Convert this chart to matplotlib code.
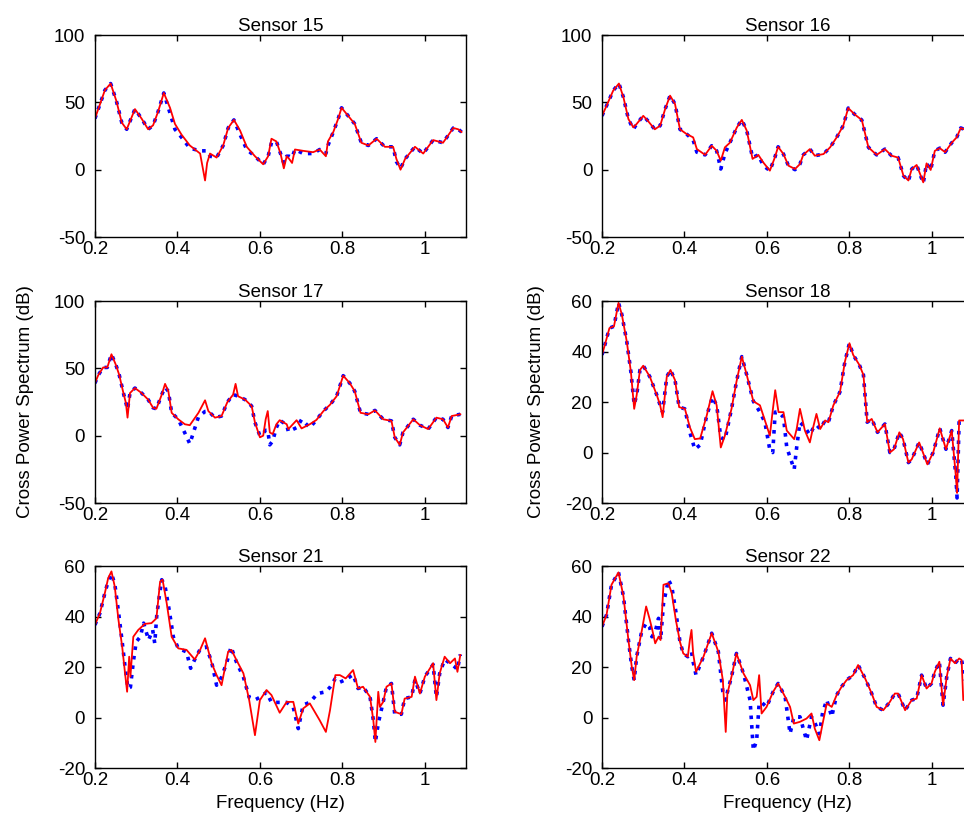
import matplotlib
matplotlib.use('Agg')
import matplotlib.pyplot as plt

plt.rcParams['font.family'] = ['Liberation Sans', 'DejaVu Sans']
plt.rcParams['font.size'] = 13.5
plt.rcParams['axes.unicode_minus'] = False

# Sensor 15
f15 = [0.200, 0.224, 0.238, 0.252, 0.265, 0.277, 0.285, 0.297, 0.313, 0.329, 0.341, 0.353, 0.367, 0.382, 0.394,
       0.410, 0.430, 0.455, 0.467, 0.472, 0.479, 0.495, 0.511, 0.523, 0.537, 0.552, 0.568, 0.588, 0.608, 0.620,
       0.628, 0.640, 0.650, 0.658, 0.665, 0.671, 0.678, 0.685, 0.705, 0.729, 0.745, 0.760, 0.765, 0.778, 0.790,
       0.798, 0.814, 0.830, 0.846, 0.863, 0.883, 0.903, 0.923, 0.931, 0.941, 0.952, 0.976, 0.996, 1.020, 1.044,
       1.069, 1.081, 1.089]
r15 = [38, 59, 64, 51, 35, 30, 36, 45, 38, 30, 33, 43, 57, 46, 34, 26, 18, 12, -8, 5, 12, 9, 18, 31, 37,
       29, 17, 10, 4, 10, 23, 21, 12, 1, 10, 8, 5, 15, 14, 13, 15, 10, 21, 28, 38, 46, 40, 34, 20, 18,
       23, 17, 17, 8, 0, 8, 17, 12, 22, 20, 31, 30, 28]
b15 = [38, 59, 64, 51, 35, 30, 36, 45, 38, 30, 33, 43, 57, 42, 30, 24, 16, 14, 14, 14, 10, 9, 18, 31, 37,
       26, 15, 10, 4, 10, 20, 21, 12, 5, 10, 10, 9, 15, 12, 12, 15, 12, 18, 28, 38, 46, 40, 34, 20, 18,
       23, 17, 17, 6, 1, 8, 17, 12, 22, 20, 31, 30, 28]

# Sensor 16
f16 = [0.200, 0.211, 0.227, 0.241, 0.252, 0.264, 0.276, 0.284, 0.300, 0.312, 0.328, 0.341, 0.353, 0.365, 0.377,
       0.389, 0.405, 0.421, 0.430, 0.450, 0.466, 0.478, 0.488, 0.498, 0.510, 0.527, 0.539, 0.551, 0.565, 0.579,
       0.591, 0.607, 0.619, 0.627, 0.640, 0.652, 0.668, 0.680, 0.688, 0.704, 0.716, 0.737, 0.753, 0.769, 0.785,
       0.797, 0.813, 0.830, 0.846, 0.866, 0.886, 0.902, 0.918, 0.931, 0.943, 0.951, 0.963, 0.979, 0.987, 0.997,
       1.007, 1.019, 1.032, 1.048, 1.060, 1.070, 1.078, 1.100]
r16 = [40, 47.5, 58.7, 64, 53.7, 37.6, 31.4, 34, 40, 36, 30, 32.7, 45, 55, 48.8, 30, 26.5, 24, 15.3, 11,
       17.8, 14, 6.7, 16.6, 20, 31.4, 37, 29, 8, 11, 5.4, -0.7, 9, 17, 11.6, 3, 0.5, 4.2, 11, 15.3,
       10.4, 11.6, 16.6, 24, 32.7, 45.8, 41, 36.9, 16.6, 11, 15.3, 10.4, 9, -4.5, -8, 0.5, 3.5, -9.4, 4.7, -0.2,
       14, 16, 13, 20, 24, 31, 30, 28]
b16 = [40, 47.5, 58.7, 64, 53.7, 37.6, 30, 34, 40, 36, 30, 32.7, 45, 55, 48.8, 30, 26.5, 22, 13, 11,
       17.8, 14, 0.5, 12, 20, 31.4, 37, 29, 9, 11, 3, -0.7, 9, 17, 11.6, 3, 0, 4.2, 11, 15.3,
       10.4, 11.6, 16.6, 24, 32.7, 45.8, 41, 36.9, 16.6, 11, 15.3, 10.4, 9, -4.5, -8.5, 0.5, 3.5, -10, 4.7, -0.2,
       14, 16, 13, 20, 24, 31, 30, 28]

# Sensor 17
f17 = [0.200, 0.208, 0.220, 0.230, 0.240, 0.251, 0.259, 0.269, 0.275, 0.279, 0.285, 0.297, 0.313, 0.329, 0.341,
       0.349, 0.362, 0.370, 0.378, 0.386, 0.402, 0.418, 0.430, 0.451, 0.467, 0.475, 0.491, 0.507, 0.521, 0.535,
       0.541, 0.547, 0.564, 0.580, 0.588, 0.600, 0.608, 0.614, 0.619, 0.624, 0.631, 0.640, 0.648, 0.665, 0.669,
       0.689, 0.701, 0.721, 0.737, 0.754, 0.770, 0.786, 0.802, 0.818, 0.830, 0.844, 0.863, 0.879, 0.899, 0.919,
       0.927, 0.939, 0.947, 0.972, 0.988, 1.008, 1.028, 1.044, 1.056, 1.065, 1.086]
r17 = [39, 45, 50.7, 50.7, 60.5, 52.4, 45, 31.7, 24.4, 13.4, 31.7, 35.4, 31.7, 26.8, 20.7,
       20, 30.5, 38.5, 33, 17, 12.2, 8.5, 7.8, 17, 26.3, 18.3, 13.4, 14.6, 24.9, 30.5,
       38.5, 29.3, 26.8, 22, 9.8, -1.2, 0, 12.2, 18.3, 2.4, 1.2, 8.5, 11.5, 8.5, 4.9,
       11.5, 5.4, 8.5, 11.7, 18.3, 23, 29.3, 44.6, 39, 33, 17, 15.9, 18.8, 12.2, 11,
       -1.2, -6.8, 2.4, 12.2, 7.8, 4.9, 13.4, 12.2, 6.1, 14.6, 15.9]
b17 = [39, 45, 50.7, 50.7, 60.5, 52.4, 45, 31.7, 24.4, 19.5, 31.7, 35.4, 31.7, 26.8, 20.7,
       20, 30.5, 36, 33, 17, 12.2, 2, -6, 14, 18, 18.3, 13.4, 14.6, 24.9, 30.5,
       30, 29.3, 26.8, 22, 9.8, 0, 2, 4, 4, -6.8, -4, 6, 11.5, 8, 3,
       6, 12, 6, 11.7, 18.3, 23, 29.3, 44.6, 39, 33, 17, 15.9, 18.8, 12.2, 11,
       -1.2, -6.8, 2.4, 12.2, 7.8, 4.9, 13.4, 12.2, 6.1, 14.6, 15.9]

# Sensor 18
f18 = [0.200, 0.207, 0.218, 0.229, 0.240, 0.248, 0.260, 0.270, 0.278, 0.284, 0.292, 0.300, 0.316, 0.333, 0.341,
       0.347, 0.357, 0.366, 0.377, 0.387, 0.401, 0.413, 0.425, 0.438, 0.454, 0.468, 0.478, 0.488, 0.498, 0.514,
       0.526, 0.539, 0.551, 0.567, 0.583, 0.595, 0.607, 0.614, 0.620, 0.628, 0.640, 0.648, 0.666, 0.672, 0.680,
       0.692, 0.704, 0.711, 0.720, 0.729, 0.741, 0.749, 0.761, 0.777, 0.789, 0.800, 0.809, 0.824, 0.834, 0.843,
       0.854, 0.868, 0.886, 0.898, 0.908, 0.921, 0.930, 0.943, 0.951, 0.969, 0.989, 1.003, 1.019, 1.034, 1.048,
       1.058, 1.061, 1.066, 1.078, 1.100]
r18 = [38.7, 42.7, 49.3, 50, 59.3, 54.7, 44, 32, 17.3, 22.7, 32.7, 34.4, 30, 22.7, 18.7,
       14, 30, 32.7, 28.7, 18, 17.3, 10, 5.3, 5.6, 14.7, 24.3, 18.7, 2, 6.7, 17.3,
       28, 38, 30.7, 20.3, 18.7, 12.7, 6.7, 16.7, 24.7, 16, 16, 8.7, 5.3, 9.3, 17.3,
       8.7, 4, 9.3, 15.3, 9.3, 12.7, 12, 18.7, 24, 36, 43.3, 38.7, 34.7, 30.7, 12,
       13.3, 8, 11.3, 0, 1.3, 8, 5.3, -4, -2.7, 4, -4.7, 0, 9.6, 1.3, 8.7,
       -9.3, -16, 12.7, 12.7, 12]
b18 = [38.7, 42.7, 49.3, 50, 59.3, 54.7, 44, 32, 19, 22.7, 32.7, 34.4, 30, 22.7, 18.7,
       16, 30, 32.7, 28.7, 18, 17.3, 8, 1.3, 3, 14.7, 22, 18.7, 6, 5, 17.3,
       28, 38, 30.7, 20.3, 16, 12, 1, 0, 16, 16, 14, 2, -6.7, 2, 12,
       10, 7, 9.3, 11, 9.3, 12.7, 12, 18.7, 24, 36, 43.3, 38.7, 34.7, 30.7, 12,
       13.3, 8, 11.3, 0, 1.3, 8, 5.3, -4, -2.7, 4, -4.7, 0, 9.6, 1.3, 8.7,
       -9.3, -18, 12.7, 12.7, 12]

# Sensor 21 (the dotted curve has its own frequencies)
f21 = [0.200, 0.212, 0.224, 0.232, 0.240, 0.248, 0.257, 0.266, 0.273, 0.278, 0.283, 0.286, 0.293, 0.305, 0.321,
       0.337, 0.349, 0.358, 0.364, 0.374, 0.386, 0.402, 0.422, 0.442, 0.455, 0.467, 0.483, 0.495, 0.507, 0.523,
       0.531, 0.543, 0.560, 0.574, 0.588, 0.600, 0.616, 0.628, 0.648, 0.665, 0.681, 0.693, 0.705, 0.721, 0.745,
       0.760, 0.770, 0.783, 0.794, 0.808, 0.826, 0.838, 0.850, 0.867, 0.875, 0.880, 0.887, 0.891, 0.899, 0.907,
       0.919, 0.927, 0.943, 0.951, 0.968, 0.976, 0.988, 1.000, 1.020, 1.028, 1.036, 1.048, 1.061, 1.073, 1.079,
       1.086]
r21 = [36.7, 41.3, 49.3, 55.2, 57.9, 51.9, 38.7, 28.1, 17.5, 10.2, 24.1, 16.2, 32, 34.7, 37.1,
       37.4, 39.3, 53.9, 54.6, 45.3, 32, 27.4, 26.8, 23, 26.8, 31.4, 21.5, 16.8, 12.8, 26.1,
       26.8, 22.8, 17.5, 6.9, -7, 6.9, 10.9, 8.9, 1.9, 6.2, 6.2, -2.4, 3.6, 5.6, -1.1,
       -5.7, 2.9, 16.8, 16.8, 15.5, 18.8, 11.5, 12.2, 8.2, -1.1, -9.7, 10.2, 4.2, 6.2, 12.2,
       13.5, 2.3, 1.3, 7.5, 8.2, 16.2, 9.5, 16.2, 21.5, 6.9, 17.5, 24.1, 21.5, 23.4, 18.1,
       24.8]
fb21 = [0.200, 0.212, 0.224, 0.232, 0.240, 0.248, 0.257, 0.266, 0.273, 0.280, 0.286, 0.293, 0.300, 0.310, 0.318,
        0.330, 0.340, 0.345, 0.350, 0.356, 0.362, 0.370, 0.380, 0.390, 0.402, 0.422, 0.432, 0.442, 0.455, 0.470,
        0.483, 0.495, 0.507, 0.520, 0.530, 0.543, 0.560, 0.574, 0.588, 0.600, 0.616, 0.628, 0.648, 0.665, 0.681,
        0.693, 0.705, 0.721, 0.740, 0.760, 0.770, 0.783, 0.794, 0.808, 0.826, 0.838, 0.850, 0.867, 0.875, 0.880,
        0.887, 0.893, 0.899, 0.907, 0.919, 0.927, 0.943, 0.951, 0.968, 0.976, 0.988, 1.000, 1.020, 1.028, 1.036,
        1.048, 1.061, 1.073, 1.079, 1.086]
b21 = [36.7, 41.3, 49.3, 54, 57, 53, 42, 30, 20, 11.5, 12, 22, 30, 32, 37.4,
       30.7, 34.7, 29.4, 40.7, 48, 54.6, 52, 42.6, 32, 27.4, 26, 19.5, 23, 27, 28,
       22, 12.8, 16, 22, 28, 22, 16, 8, 7, 8, 10, 6, 6, 6, 4,
       -4.4, 5, 6, 9.5, 10.2, 12, 15.5, 14, 15, 17, 11.5, 12.2, 8.2, -1, -9.7,
       -2.4, 2, 6.2, 12.2, 13.5, 1.3, 1.3, 7.5, 8.2, 15, 9.5, 16.2, 21, 8, 17.5,
       23, 21.5, 20, 19, 25]

# Sensor 22
f22 = [0.200, 0.211, 0.223, 0.240, 0.252, 0.264, 0.272, 0.278, 0.284, 0.296, 0.307, 0.315, 0.321, 0.329, 0.337,
       0.342, 0.349, 0.361, 0.369, 0.379, 0.389, 0.397, 0.408, 0.413, 0.417, 0.421, 0.428, 0.446, 0.466, 0.482,
       0.493, 0.500, 0.504, 0.514, 0.526, 0.543, 0.559, 0.567, 0.575, 0.581, 0.587, 0.599, 0.615, 0.627, 0.644,
       0.656, 0.665, 0.680, 0.696, 0.708, 0.716, 0.727, 0.735, 0.745, 0.757, 0.769, 0.781, 0.793, 0.809, 0.821,
       0.838, 0.854, 0.866, 0.882, 0.898, 0.910, 0.918, 0.935, 0.951, 0.963, 0.975, 0.987, 0.999, 1.007, 1.018,
       1.027, 1.036, 1.045, 1.056, 1.066, 1.072, 1.076, 1.090]
r22 = [36, 40.7, 52.6, 57.5, 48, 30.7, 20.3, 14.8, 24.1, 34, 44, 39.3, 35.4, 29.4, 32,
       30.7, 52.6, 53.2, 49.3, 38.7, 30, 25.4, 24.1, 30.7, 34.7, 25.4, 18.1, 24.1, 33.4, 26.1,
       14.8, -5.7, 9.5, 16.2, 25.4, 17.5, 12.8, 6.9, 8.2, 16.8, 1.6, 4.2, 10.2, 13.5, 8.2,
       4.2, -2.4, -1.7, -0.4, 1.6, -4.4, -9, -2.4, 5.6, 4.2, 8.9, 12.2, 14.8, 16.8, 20.8,
       15.5, 9.5, 4.2, 2.9, 6.2, 9.5, 9.5, 2.9, 6.9, 7.5, 16.8, 11.5, 13.5, 18.1, 22.1,
       4.9, 16.2, 23.4, 21.5, 23.4, 22.8, 6.9, 10]
b22 = [36, 40.7, 52.6, 57.5, 48, 30.7, 20.3, 14.8, 24.1, 34, 37.4, 36, 32, 34, 39.3,
       30.7, 45, 54.6, 52, 42, 30, 25.4, 24.1, 25, 26, 22, 16.8, 24.1, 33.4, 26.1,
       10.2, 6.9, 10, 16.2, 25.4, 17.5, 6.9, -13, -9, 5.6, 6, 4.2, 10.2, 13.5, 8.2,
       -6.4, 0, 0.3, -9, 0.3, -2, -6.4, 2, 7, 0.3, 8.9, 12.2, 14.8, 16.8, 20.8,
       15.5, 9.5, 4.2, 2.9, 6.2, 9.5, 9.5, 2.9, 6.9, 7.5, 16.8, 11.5, 13.5, 18.1, 22.1,
       4.9, 16.2, 23.4, 21.5, 23.4, 22.8, 19, 5]

titles = ['Sensor 15', 'Sensor 16', 'Sensor 17', 'Sensor 18', 'Sensor 21', 'Sensor 22']
panels = [(f15, b15, f15, r15), (f16, b16, f16, r16), (f17, b17, f17, r17),
          (f18, b18, f18, r18), (fb21, b21, f21, r21), (f22, b22, f22, r22)]
ylims = [(-50, 100), (-50, 100), (-50, 100), (-20, 60), (-20, 60), (-20, 60)]
yticks = [[-50, 0, 50, 100], [-50, 0, 50, 100], [-50, 0, 50, 100],
          [-20, 0, 20, 40, 60], [-20, 0, 20, 40, 60], [-20, 0, 20, 40, 60]]

fig = plt.figure(figsize=(9.64, 8.31), dpi=100)

lefts = [0.0985, 0.6245]
bottoms = [0.7148, 0.3947, 0.0758]
w = 0.385
h = 0.243

for i in range(6):
    row, col = i // 2, i % 2
    ax = fig.add_axes([lefts[col], bottoms[row], w, h])
    fb, vb, fr, vr = panels[i]
    ax.plot(fb, vb, color='blue', linestyle=':', linewidth=2.6)
    ax.plot(fr, vr, color='red', linestyle='-', linewidth=1.3)
    ax.set_xlim(0.2, 1.1)
    ax.set_ylim(*ylims[i])
    ax.set_yticks(yticks[i])
    ax.set_xticks([0.2, 0.4, 0.6, 0.8, 1.0])
    ax.set_xticklabels(['0.2', '0.4', '0.6', '0.8', '1'])
    ax.tick_params(direction='in', top=True, right=True, length=4, width=1, pad=3)
    ax.tick_params(axis='y', pad=7)
    for s in ax.spines.values():
        s.set_linewidth(1)
    ax.set_title(titles[i], fontsize=13.5, pad=3)
    if row == 1:
        ax.set_ylabel('Cross Power Spectrum (dB)', labelpad=14)
    if row == 2:
        ax.set_xlabel('Frequency (Hz)', labelpad=4)

plt.savefig('out.png', dpi=100)
